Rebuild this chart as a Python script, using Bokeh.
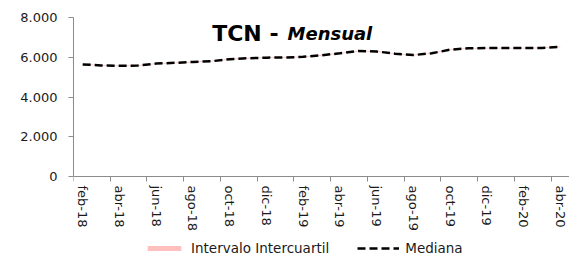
import numpy as np
from bokeh.plotting import figure
from bokeh.models import (Range1d, FixedTicker, LinearAxis, Legend, LegendItem, Label, ColumnDataSource)
from bokeh.embed import file_html
from bokeh.resources import INLINE

months = ["feb-18", "mar-18", "abr-18", "may-18", "jun-18", "jul-18", "ago-18", "sep-18",
          "oct-18", "nov-18", "dic-18", "ene-19", "feb-19", "mar-19", "abr-19", "may-19",
          "jun-19", "jul-19", "ago-19", "sep-19", "oct-19", "nov-19", "dic-19", "ene-20",
          "feb-20", "mar-20", "abr-20"]
mediana = [5640, 5590, 5570, 5580, 5680, 5720, 5760, 5800, 5900, 5950, 5980, 5990,
           6020, 6100, 6200, 6310, 6290, 6180, 6110, 6200, 6380, 6450, 6460, 6460,
           6460, 6470, 6520]
q1 = [5620, 5570, 5550, 5560, 5660, 5700, 5740, 5780, 5880, 5930, 5960, 5970,
      6000, 6080, 6180, 6290, 6270, 6160, 6090, 6180, 6360, 6430, 6440, 6440,
      6440, 6450, 6500]
q3 = [5660, 5610, 5590, 5600, 5700, 5740, 5780, 5820, 5920, 5970, 6000, 6010,
      6040, 6120, 6220, 6330, 6310, 6200, 6130, 6220, 6400, 6470, 6480, 6480,
      6480, 6490, 6540]
y_ticks = [0, 2000, 4000, 6000, 8000]
y_tick_labels = ["0", "2.000", "4.000", "6.000", "8.000"]

n = len(months)
xc = np.arange(n) + 0.5
src = ColumnDataSource(dict(x=xc, med=mediana, lo=q1, hi=q3))

FONT = "DejaVu Sans"

# frame spans down to the bottom; the value axis is bounded to 0..8000
p = figure(width=569, height=262, x_range=Range1d(0, 27), y_range=Range1d(-4327, 8000),
           output_backend="svg", toolbar_location=None,
           min_border_left=73, min_border_right=0, min_border_top=17, min_border_bottom=0)
p.outline_line_color = None
p.xgrid.visible = False
p.ygrid.visible = False
p.background_fill_color = "white"
p.border_fill_color = "white"

band = p.varea(x="x", y1="lo", y2="hi", source=src, fill_color="#FFBFBF")
med = p.line(x="x", y="med", source=src, line_color="black", line_width=2.5, line_dash="8 4")

# y axis
ya = p.yaxis[0]
ya.bounds = (0, 8000)
ya.ticker = FixedTicker(ticks=y_ticks)
ya.major_label_overrides = {t: l for t, l in zip(y_ticks, y_tick_labels)}
ya.major_label_text_font = FONT
ya.major_label_text_font_size = "13px"
ya.major_label_text_color = "#1a1a1a"
ya.axis_line_color = "#8c8c8c"
ya.major_tick_line_color = "#8c8c8c"
ya.major_tick_out = 5
ya.major_tick_in = 0
ya.minor_tick_line_color = None
ya.major_label_standoff = 11

# x axis: tick marks at category boundaries
xa = p.xaxis[0]
xa.fixed_location = 0
xa.ticker = FixedTicker(ticks=list(range(0, n, 2)))
xa.major_label_text_alpha = 0
xa.major_label_text_font_size = "2px"
xa.major_label_standoff = 0
xa.axis_line_color = "#8c8c8c"
xa.major_tick_line_color = "#8c8c8c"
xa.major_tick_out = 5
xa.major_tick_in = 0
xa.minor_tick_line_color = None

# x axis: labels at category centres
lab_idx = list(range(0, n, 2))
lab_pos = [float(xc[i]) for i in lab_idx]
xa2 = LinearAxis(ticker=FixedTicker(ticks=lab_pos),
                 major_label_overrides={pos: months[i] for pos, i in zip(lab_pos, lab_idx)})
xa2.fixed_location = 0
xa2.axis_line_color = None
xa2.major_tick_line_color = None
xa2.minor_tick_line_color = None
xa2.major_tick_out = 0
xa2.major_tick_in = 0
xa2.major_label_orientation = "vertical"
xa2.major_label_text_font = FONT
xa2.major_label_text_font_size = "13px"
xa2.major_label_text_color = "#1a1a1a"
xa2.major_label_standoff = 9
p.add_layout(xa2, "below")

# title
p.add_layout(Label(x=7.55, y=7200, text="TCN -", text_font=FONT, text_font_style="bold",
                   text_font_size="22px", text_color="black", text_baseline="alphabetic"))
p.add_layout(Label(x=11.65, y=7200, text="Mensual", text_font=FONT, text_font_style="bold italic",
                   text_font_size="18px", text_color="black", text_baseline="alphabetic"))

legend = Legend(items=[LegendItem(label="Intervalo Intercuartil", renderers=[band]),
                       LegendItem(label="Mediana", renderers=[med])],
                orientation="horizontal", location=(70, 6),
                glyph_width=42, glyph_height=6, label_standoff=6, spacing=28,
                label_text_font=FONT, label_text_font_size="13.5px", label_text_color="#1a1a1a",
                border_line_color=None, background_fill_alpha=0, padding=2, margin=0)
p.add_layout(legend, "center")

open("out.html", "w").write(file_html(p, INLINE))
